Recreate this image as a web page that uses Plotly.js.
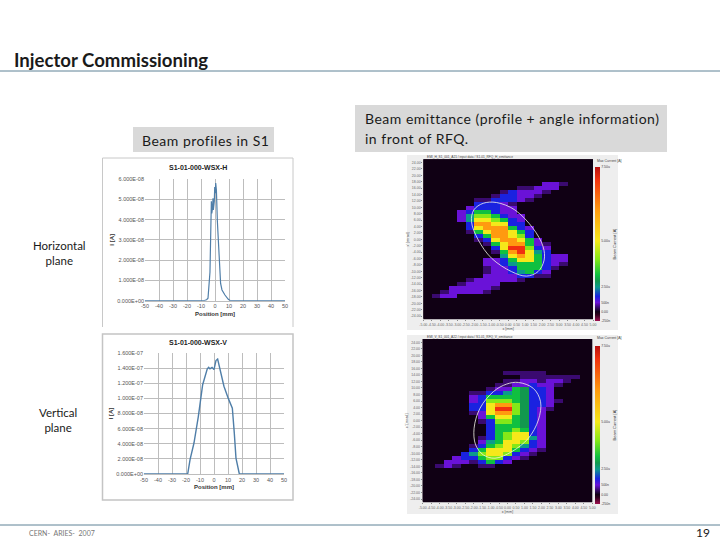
<!DOCTYPE html>
<html><head><meta charset="utf-8">
<script src="https://cdn.plot.ly/plotly-3.0.1.min.js"></script>
<style>html,body{margin:0;padding:0;background:#fff}#c{width:720px;height:540px}</style></head>
<body><div id="c"></div>
<script>
const profileHX=[-50,-30,-10,-7.5,-6,-5,-3.6,-2.9,-2.6,-2.3,-1.9,-1.6,-1.4,-1.2,-0.8,-0.5,-0.2,0.2,0.5,1,1.7,2.9,4,5,7.1,9.5,11,30,50];
const profileHY=[0,0,0,0.01,0.05,0.12,1.4,3.4,4.9,4.3,4.5,4.9,5.05,4.47,4.8,4.9,5.6,5.3,5.8,5.45,3.9,1.9,0.85,0.53,0.28,0.07,0,0,0].map(v=>v*1e-8);
const profileVX=[-50,-30,-18.8,-17.1,-14.3,-11.2,-8.1,-4.8,-3.8,-2.9,-1.4,0,1.4,2.6,3.6,4.8,7.1,10.2,13.1,14.5,15.7,18.1,30,50];
const profileVY=[0,0,0,1.9,4.1,7.6,11.8,13.9,14.1,13.9,14.1,13.8,15,15.2,14.4,13.6,11.6,10,8.7,5.4,2.1,0,0,0].map(v=>v*1e-8);
const hTicks=[0,1e-8,2e-8,3e-8,4e-8,5e-8,6e-8];
const hLabels=["0.000E+00","1.000E-08","2.000E-08","3.000E-08","4.000E-08","5.000E-08","6.000E-08"];
const vTicks=[0,2e-8,4e-8,6e-8,8e-8,10e-8,12e-8,14e-8,16e-8];
const vLabels=["0.000E+00","2.000E-08","4.000E-08","6.000E-08","8.000E-08","1.000E-07","1.200E-07","1.400E-07","1.600E-07"];
const posTicks=[-50,-40,-30,-20,-10,0,10,20,30,40,50];
// beam-current levels, one character per cell
const levelValue={'.':6,d:9,p:12,b:16,t:22,e:26,g:30,l:40,y:52,o:72,r:92};
const blank='....................';
const emitHRows=[blank,blank,blank,blank,blank,blank,
"..............ppd...",
"...........ddppp....",
".........dbpppd.....",
"........dbbppd......",
"......ddbbbpd.......",
"......bbbpd.........",
".....pbbbpp.........",
"....pbggbpp.........",
"....ptllgbpp........",
"....ptyylgbp........",
".....booyybb........",
".....byooogbp.......",
".....dgyooygb.......",
"......bgooylb.......",
"......dbyooygp......",
".......dgyoogpd.....",
"........byrrlbp.....",
"........dgorytb.....",
".........tyoygbpp...",
".......ppbgyygbpp...",
".......ppbtgggbpd...",
".......dppbgggbd....",
".......dppbtgbp.....",
".......ppppbbdd.....",
".....dpppppd........",
"....dpppp...........",
"...pppppd...........",
"..dppppd............",
".dpp................",
blank,blank,blank,blank,blank];
const emitVRows=[blank,blank,blank,blank,blank,blank,blank,blank,
"..........ddddd.....",
"............ddddddd.",
"..........ddppdppd..",
".........ddppbppd...",
"........dppgebbp....",
"......ddbbtgebbp....",
"......pbggggebbp....",
"......pblllgebbpd...",
"......bbyoolebbp....",
"......bbyrrlebpd....",
"......dpyoolebp.....",
".......pgyygebp.....",
".......dbllgebp.....",
"........bgggebp.....",
"........bgglgbp.....",
"........bglyybp.....",
".......dbglyytp.....",
".......ptgyylbp.....",
"......dbglyltbp.....",
"......bgyyygbpd.....",
".....btlyylbpd......",
"....pbbgllbpd.......",
"...pppdbgbp.........",
"..dpd..dd...........",
blank,blank,blank,blank,blank,blank,blank,blank];
const emitH=emitHRows.map(r=>[...r].map(c=>levelValue[c]));
const emitV=emitVRows.map(r=>[...r].map(c=>levelValue[c]));
const ellipseHX=[-0.69,0.39,1.47,2.06,2.12,1.76,1.08,0.2,-0.98,-1.76,-2.16,-2.02,-1.47,-0.69];
const ellipseHY=[11.5,9.2,3.4,-2.3,-6.5,-10.1,-11.5,-10.1,-5.9,-0.2,5.5,9.2,11.25,11.5];
const ellipseVX=[0.64,1.52,1.95,1.82,1.23,0.25,-0.74,-1.42,-1.88,-1.97,-1.62,-0.83,-0.05,0.64];
const ellipseVY=[11.7,9.9,5.8,0.2,-5.4,-9.5,-11.5,-10.5,-7.4,-2.3,3.8,8.9,11.2,11.7];
const emitXTicks=[-5,-4.5,-4,-3.5,-3,-2.5,-2,-1.5,-1,-0.5,0,0.5,1,1.5,2,2.5,3,3.5,4,4.5,5];
const emitYTicks=[-24,-22,-20,-18,-16,-14,-12,-10,-8,-6,-4,-2,0,2,4,6,8,10,12,14,16,18,20,22,24];
const cbarVals=[100,52,22,12,6,0];
const cbarText=["7.50u","5.00u","2.50u","500n","0.00","-250n"];
const scale=[[0,'#a01050'],[0.04,'#30001e'],[0.06,'#100014'],[0.09,'#3a0a70'],[0.12,'#6a12d8'],[0.16,'#1a22e0'],[0.22,'#0c9a8c'],[0.26,'#12984e'],[0.30,'#10c040'],[0.40,'#84e818'],[0.52,'#f5e81a'],[0.72,'#ff9a10'],[0.92,'#f03010'],[1,'#b81010']];

const W=720,H=540;
const fx=p=>p/W, fy=p=>1-p/H;
const dom=(a,b)=>[fx(a),fx(b)], domY=(t,b)=>[fy(b),fy(t)];
const lineColor='#4f7ea8';
const grid='#bdbdbd';
const uiFont='Lato';
function lineAxisX(d,an){return {domain:d,anchor:an,range:[-50,50],tickvals:posTicks,ticktext:posTicks.map(String),tickfont:{size:5.5,color:'#555',family:'Liberation Sans'},gridcolor:grid,gridwidth:1,zeroline:false,showline:true,linecolor:grid,ticks:'',
 title:{text:'<b>Position [mm]</b>',font:{size:6,color:'#333',family:'Liberation Sans'},standoff:3},automargin:false};}
function lineAxisY(d,an,r,tv,tt){return {domain:d,anchor:an,range:r,tickvals:tv,ticktext:tt,tickfont:{size:5.5,color:'#555',family:'Liberation Sans'},gridcolor:grid,gridwidth:1,zeroline:false,showline:false,ticks:'',
 title:{text:'<b>I [A]</b>',font:{size:6,color:'#333',family:'Liberation Sans'},standoff:2},automargin:false};}
function emitAxisX(d,an){return {domain:d,anchor:an,range:[-5,5],tickvals:emitXTicks,ticktext:emitXTicks.map(v=>v.toFixed(2)),tickfont:{size:3.5,color:'#666',family:'Liberation Sans'},ticks:'outside',ticklen:1,tickcolor:'#888',showgrid:false,zeroline:false,tickangle:0,
 title:{text:'x [mm]',font:{size:3.5,color:'#444'},standoff:1},automargin:false};}
function emitAxisY(d,an){return {domain:d,anchor:an,range:[-25,25],tickvals:emitYTicks,ticktext:emitYTicks.map(v=>v.toFixed(2)),tickfont:{size:3.5,color:'#666',family:'Liberation Sans'},ticks:'outside',ticklen:1,tickcolor:'#888',showgrid:false,zeroline:false,
 title:{text:"x' [mrad]",font:{size:3.5,color:'#444'},standoff:1},automargin:false};}
function heat(z,x0,xa,ya,cbTop,cbBot){return {type:'heatmap',z:z,x0:x0,dx:0.5,y0:24.6875,dy:-1.25,xaxis:xa,yaxis:ya,zmin:0,zmax:100,colorscale:scale,zsmooth:false,hoverinfo:'skip',
 colorbar:{x:fx(595),xanchor:'left',xref:'paper',y:fy(cbBot),yanchor:'bottom',yref:'paper',len:(cbBot-cbTop)/H,lenmode:'fraction',thickness:5,thicknessmode:'pixels',outlinewidth:0,borderwidth:0,xpad:0,ypad:0,tickvals:cbarVals,ticktext:cbarText,tickfont:{size:3.5,color:'#444',family:'Liberation Sans'},ticks:'',title:{text:'Beam Current [A]',side:'right',font:{size:4,color:'#333'}}}};}

const traces=[
 {type:'scatter',mode:'lines',x:profileHX,y:profileHY,xaxis:'x',yaxis:'y',line:{color:lineColor,width:1.2},hoverinfo:'skip',showlegend:false},
 {type:'scatter',mode:'lines',x:profileVX,y:profileVY,xaxis:'x2',yaxis:'y2',line:{color:lineColor,width:1.4},hoverinfo:'skip',showlegend:false},
 heat(emitH,-4.75,'x3','y3',167,321),
 heat(emitV,-5,'x4','y4',346,504),
 {type:'scatter',mode:'lines',x:ellipseHX,y:ellipseHY,xaxis:'x3',yaxis:'y3',line:{color:'#f4f4e8',width:0.8,shape:'spline'},hoverinfo:'skip',showlegend:false},
 {type:'scatter',mode:'lines',x:ellipseVX,y:ellipseVY,xaxis:'x4',yaxis:'y4',line:{color:'#f4f4e8',width:0.8,shape:'spline'},hoverinfo:'skip',showlegend:false}
];
const box=(x0,y0,x1,y1,fill,line,w)=>({type:'rect',xref:'paper',yref:'paper',x0:fx(x0),x1:fx(x1),y0:fy(y1),y1:fy(y0),fillcolor:fill,line:{color:line||'rgba(0,0,0,0)',width:line?(w||1):0},layer:'below'});
const seg=(x0,y0,x1,y1,color,w)=>({type:'line',xref:'paper',yref:'paper',x0:fx(x0),x1:fx(x1),y0:fy(y0),y1:fy(y1),line:{color:color,width:w},layer:'below'});
const txt=(t,x,y,size,opt={})=>Object.assign({text:t,x:fx(x),y:fy(y),xref:'paper',yref:'paper',xanchor:'left',yanchor:'middle',showarrow:false,font:{size:size,color:'#1a1a1a',family:uiFont},align:'left'},opt);
const layout={width:W,height:H,margin:{l:0,r:0,t:0,b:0},paper_bgcolor:'#fff',plot_bgcolor:'rgba(0,0,0,0)',showlegend:false,
 xaxis:lineAxisX(dom(145,285),'y'),yaxis:lineAxisY(domY(179,300.7),'x',[0,6e-8],hTicks,hLabels),
 xaxis2:lineAxisX(dom(144,284),'y2'),yaxis2:lineAxisY(domY(353,474),'x2',[0,16e-8],vTicks,vLabels),
 xaxis3:emitAxisX(dom(423.3,593),'y3'),yaxis3:emitAxisY(domY(159.3,319.3),'x3'),
 xaxis4:emitAxisX(dom(422.7,592.3),'y4'),yaxis4:emitAxisY(domY(339,502.3),'x4'),
 shapes:[
  seg(0,71,720,71,'#5f8296',1),
  seg(0,525,720,525,'#5f8296',1),
  box(133,127,274,152,'#d9d9d9'),
  box(355,105,667,152,'#d9d9d9'),
  seg(102.5,158,293,158,'#c8c8c8',1),
  seg(102.5,158,102.5,327,'#c8c8c8',1),
  seg(293,158,293,327,'#c8c8c8',1),
  box(102.5,334,293,500,'#ffffff','#c4c4c4',1.5),
  box(407,155,618,330,'#eeeeee'),
  box(407,335,618,514,'#eeeeee'),
  box(423.3,159.3,593,319.3,'#100014'),
  box(422.7,339,592.3,502.3,'#100014')
 ],
 annotations:[
  txt('<b>Injector Commissioning</b>',12,60,18.6),
  txt('Beam profiles in S1',140,140,14),
  txt('Beam emittance (profile + angle information)',363,119,14),
  txt('in front of RFQ.',363,138,14),
  txt('Horizontal<br>plane',59,253,11.5,{xanchor:'center',align:'center'}),
  txt('Vertical<br>plane',58,420,11.5,{xanchor:'center',align:'center'}),
  txt('CERN-  ARIES-  2007',27,533,7,{font:{size:7,color:'#777',family:uiFont}}),
  txt('19',694,532,12),
  txt('<b>S1-01-000-WSX-H</b>',198,167.5,7,{xanchor:'center',font:{size:7,color:'#222',family:'Liberation Sans'}}),
  txt('<b>S1-01-000-WSX-V</b>',198,342,7,{xanchor:'center',font:{size:7,color:'#222',family:'Liberation Sans'}}),
  txt('Max Current [A]',595,161,3.5,{font:{size:3.5,color:'#444',family:'Liberation Sans'}}),
  txt('Max Current [A]',595,338,3.5,{font:{size:3.5,color:'#444',family:'Liberation Sans'}}),
  txt('EMI_H_S1_001_A21 / input data / S1-01_RFQ_H_emittance',425,157,3.2,{font:{size:3.2,color:'#444',family:'Liberation Sans'}}),
  txt('EMI_V_S1_001_A22 / input data / S1-01_RFQ_V_emittance',425,336.5,3.2,{font:{size:3.2,color:'#444',family:'Liberation Sans'}})
 ]};
Plotly.newPlot('c',traces,layout,{staticPlot:true,displayModeBar:false}).then(()=>{
 document.querySelectorAll('.annotation-text').forEach(el=>{
  const t=el.textContent;
  if(t.startsWith('Beam ')||t.startsWith('in front'))el.style.letterSpacing='0.5px';
 });
});
</script></body></html>
